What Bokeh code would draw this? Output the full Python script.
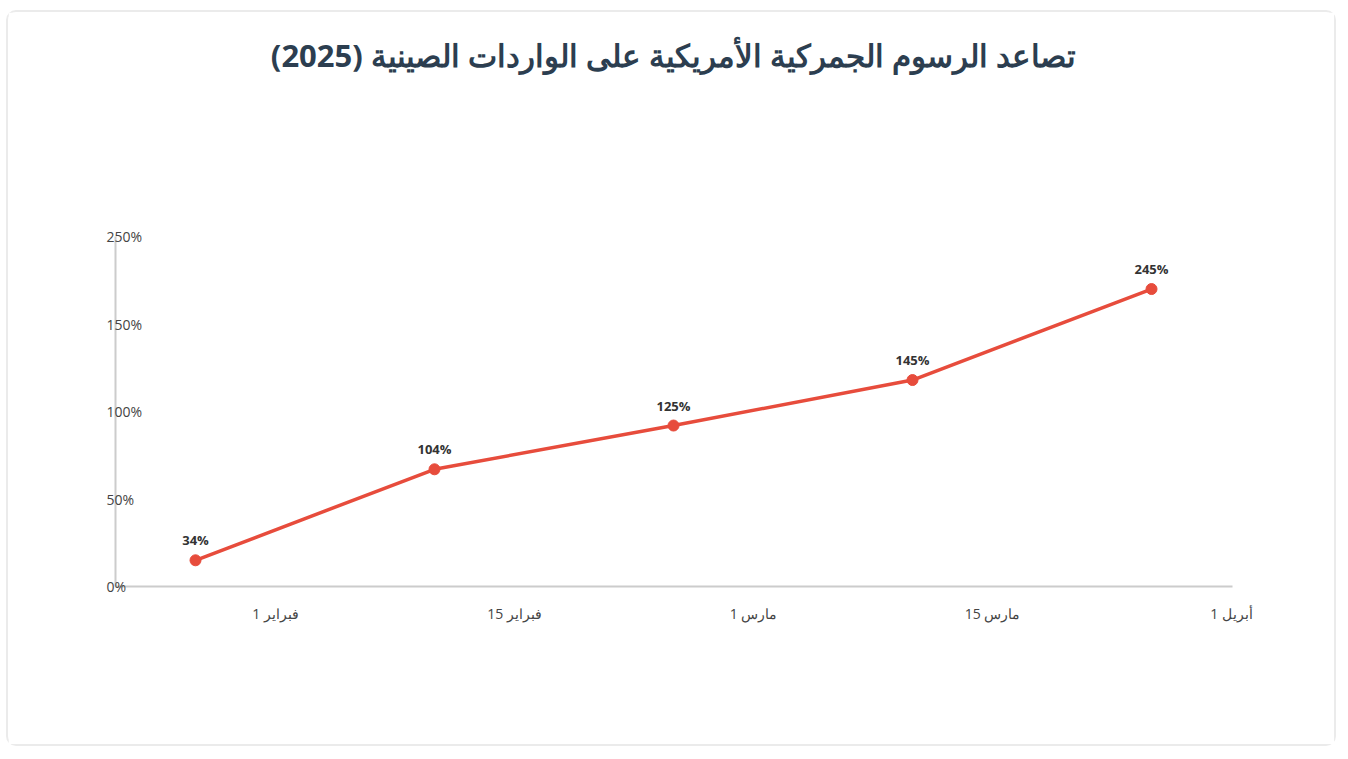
from bokeh.plotting import figure
from bokeh.models import ColumnDataSource, LabelSet, Label, FixedTicker, Range1d
from bokeh.core.properties import value
from bokeh.embed import file_html
from bokeh.resources import INLINE

# ---- data ----
dates = ["فبراير 1", "فبراير 15", "مارس 1", "مارس 15", "أبريل 1"]
date_index = [0, 1, 2, 3, 4]
plot_values = [15, 67, 92, 118, 170]          # plotted heights as drawn
rate_labels = ["34%", "104%", "125%", "145%", "245%"]
y_ticks = [0, 50, 100, 150, 200]
y_tick_labels = ["0%", "50%", "100%", "150%", "250%"]
title_text = "تصاعد الرسوم الجمركية الأمريكية على الواردات الصينية (2025)"

FONT = "Open Sans"
RED = "#e74c3c"
label_shift = 0.335
x_start, x_axis_pos, x_axis_end, x_end = -0.3975, -0.3347, 4.339, 4.456
y_start, y_end = -35.4, 328.0
title_y = 303.5

p = figure(width=1330, height=736, output_backend="svg", toolbar_location=None,
           title=None,
           x_range=Range1d(x_start, x_end), y_range=Range1d(y_start, y_end),
           min_border_left=92, min_border_right=78, min_border_top=0,
           min_border_bottom=100, background_fill_color="white",
           border_fill_color="white", outline_line_color=None,
           styles={"border": "2px solid #ebebeb", "border-radius": "10px",
                   "margin-left": "6px", "margin-top": "10px"})

p.xgrid.visible = False
p.ygrid.visible = False

ticks_x = [round(i + label_shift, 3) for i in date_index]
p.xaxis.ticker = FixedTicker(ticks=ticks_x)
p.xaxis.major_label_overrides = {t: d for t, d in zip(ticks_x, dates)}
p.xaxis.fixed_location = 0
p.xaxis.bounds = (x_axis_pos, x_axis_end)
p.xaxis.major_tick_line_color = None
p.xaxis.minor_tick_line_color = None
p.xaxis.axis_line_color = "#cccccc"
p.xaxis.axis_line_width = 2
p.xaxis.major_label_text_font = FONT
p.xaxis.major_label_text_font_size = "14px"
p.xaxis.major_label_text_color = "#444444"
p.xaxis.major_label_standoff = 11

p.yaxis.ticker = FixedTicker(ticks=y_ticks)
p.yaxis.fixed_location = x_axis_pos
p.yaxis.bounds = (0, 200)
p.yaxis.major_tick_line_color = None
p.yaxis.minor_tick_line_color = None
p.yaxis.axis_line_color = "#cccccc"
p.yaxis.axis_line_width = 2
p.yaxis.major_label_text_color = None

ysrc = ColumnDataSource(dict(x=[x_axis_pos] * len(y_ticks), y=y_ticks, t=y_tick_labels))
p.add_layout(LabelSet(x="x", y="y", text="t", source=ysrc, x_offset=-9,
                      text_align="left", text_baseline="middle",
                      text_font=value(FONT), text_font_size="14px",
                      text_color="#444444"))

src = ColumnDataSource(dict(x=date_index, y=plot_values, t=rate_labels))
p.line("x", "y", source=src, line_color=RED, line_width=3.5)
p.scatter("x", "y", source=src, size=11, fill_color=RED, line_color=RED)
p.add_layout(LabelSet(x="x", y="y", text="t", source=src, y_offset=20,
                      text_align="center", text_baseline="middle",
                      text_font=value(FONT), text_font_size="13px",
                      text_font_style="bold", text_color="#333333"))

x_mid = (date_index[0] + date_index[-1]) / 2
p.add_layout(Label(x=x_mid, y=title_y, text=title_text, text_align="center",
                   text_baseline="middle", text_font=FONT,
                   text_font_size="31px", text_font_style="bold",
                   text_color="#2c3e50"))

open("out.html", "w").write(file_html(p, INLINE))
